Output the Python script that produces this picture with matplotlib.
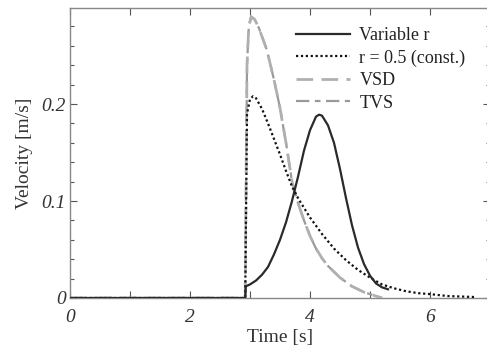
import matplotlib
matplotlib.use('Agg')
import matplotlib.pyplot as plt
from matplotlib.ticker import MultipleLocator, FuncFormatter

# Time [s] and velocity [m/s]
t_var = [0.0, 2.92, 2.93, 3.0, 3.1, 3.2, 3.3, 3.4, 3.5, 3.6, 3.7, 3.8, 3.9, 4.0, 4.1, 4.15,
         4.2, 4.3, 4.4, 4.5, 4.6, 4.7, 4.8, 4.9, 5.0, 5.1, 5.2, 5.3]
v_var = [0.0, 0.0, 0.012, 0.014, 0.018, 0.024, 0.032, 0.045, 0.060, 0.078, 0.100, 0.125, 0.152,
         0.173, 0.187, 0.189, 0.188, 0.178, 0.160, 0.133, 0.103, 0.075, 0.052, 0.035, 0.023,
         0.015, 0.011, 0.009]

t_const = [0.0, 2.92, 2.95, 3.0, 3.05, 3.1, 3.2, 3.3, 3.4, 3.5, 3.6, 3.7, 3.8, 3.9, 4.0, 4.2,
           4.4, 4.6, 4.8, 5.0, 5.2, 5.4, 5.6, 5.8, 6.0, 6.3, 6.75]
v_const = [0.0, 0.0, 0.190, 0.205, 0.208, 0.206, 0.195, 0.180, 0.164, 0.148, 0.131, 0.115,
           0.103, 0.093, 0.083, 0.066, 0.051, 0.039, 0.029, 0.021, 0.014, 0.010, 0.007, 0.005,
           0.004, 0.002, 0.001]

t_vsd = [0.0, 2.92, 2.95, 2.98, 3.02, 3.08, 3.15, 3.28, 3.4, 3.5, 3.6, 3.7, 3.8, 3.9, 4.0, 4.1,
         4.2, 4.3, 4.5, 4.7, 4.9, 5.1, 5.2]
v_vsd = [0.0, 0.0, 0.240, 0.280, 0.290, 0.287, 0.278, 0.256, 0.225, 0.196, 0.160, 0.120, 0.098,
         0.080, 0.064, 0.051, 0.041, 0.033, 0.021, 0.012, 0.006, 0.002, 0.0]

t_tvs = [0.0, 2.92, 2.95, 2.98, 3.02, 3.08, 3.15, 3.28, 3.4, 3.5, 3.6, 3.7, 3.8, 3.9, 4.0, 4.1,
         4.2, 4.3, 4.5, 4.7, 4.9, 5.1, 5.2]
v_tvs = [0.0, 0.0, 0.240, 0.280, 0.290, 0.287, 0.278, 0.256, 0.225, 0.196, 0.160, 0.120, 0.098,
         0.080, 0.064, 0.051, 0.041, 0.033, 0.021, 0.012, 0.006, 0.002, 0.0]

plt.rcParams['font.family'] = ['Liberation Serif', 'DejaVu Serif']

fig = plt.figure(figsize=(4.87, 3.54), dpi=100)
ax = fig.add_axes([70 / 487, 56 / 354, 420 / 487, 290 / 354])

ax.plot(t_tvs, v_tvs, color='#9a9a9a', lw=1.6, dashes=(6, 2.5, 2.5, 2.5), label='TVS', zorder=2)
ax.plot(t_vsd, v_vsd, color='#b0b0b0', lw=2.0, dashes=(6, 3), label='VSD', zorder=3)
ax.plot(t_const, v_const, color='#111111', lw=1.6, ls=(0, (1, 1.2)), label='r = 0.5 (const.)', zorder=4)
ax.plot(t_var, v_var, color='#2a2a2a', lw=1.6, label='Variable r', zorder=5)

ax.set_xlim(0, 7)
ax.set_ylim(0, 0.299)
ax.xaxis.set_major_locator(MultipleLocator(1))
ax.xaxis.set_major_formatter(FuncFormatter(lambda v, p: '%d' % v if int(round(v)) % 2 == 0 else ''))
ax.yaxis.set_major_locator(MultipleLocator(0.1))
ax.yaxis.set_minor_locator(MultipleLocator(0.02))
ax.yaxis.set_major_formatter(FuncFormatter(lambda v, p: '0' if abs(v) < 1e-9 else '%g' % v))

ax.tick_params(which='both', direction='in', top=True, right=True, colors='#555555',
               labelcolor='#333333', labelsize=14, width=0.8)
ax.tick_params(which='major', length=5)
ax.tick_params(which='minor', length=3)
ax.tick_params(axis='x', pad=8)
ax.tick_params(axis='y', pad=3)
for lbl in ax.get_xticklabels() + ax.get_yticklabels():
    lbl.set_fontstyle('italic')
for s in ax.spines.values():
    s.set_color('#888888')
    s.set_linewidth(1.0)

ax.set_xlabel('Time [s]', fontsize=14, color='#333333', labelpad=2)
ax.set_ylabel('Velocity [m/s]', fontsize=14, color='#333333', labelpad=6)

handles, labels = ax.get_legend_handles_labels()
order = [3, 2, 1, 0]
ax.legend([handles[i] for i in order], [labels[i] for i in order], loc='upper left',
          bbox_to_anchor=(0.5, 0.99), frameon=False, fontsize=13, handlelength=3.0,
          labelspacing=0.3, handletextpad=0.5, labelcolor='#222222')

fig.savefig('out.png', dpi=100)
